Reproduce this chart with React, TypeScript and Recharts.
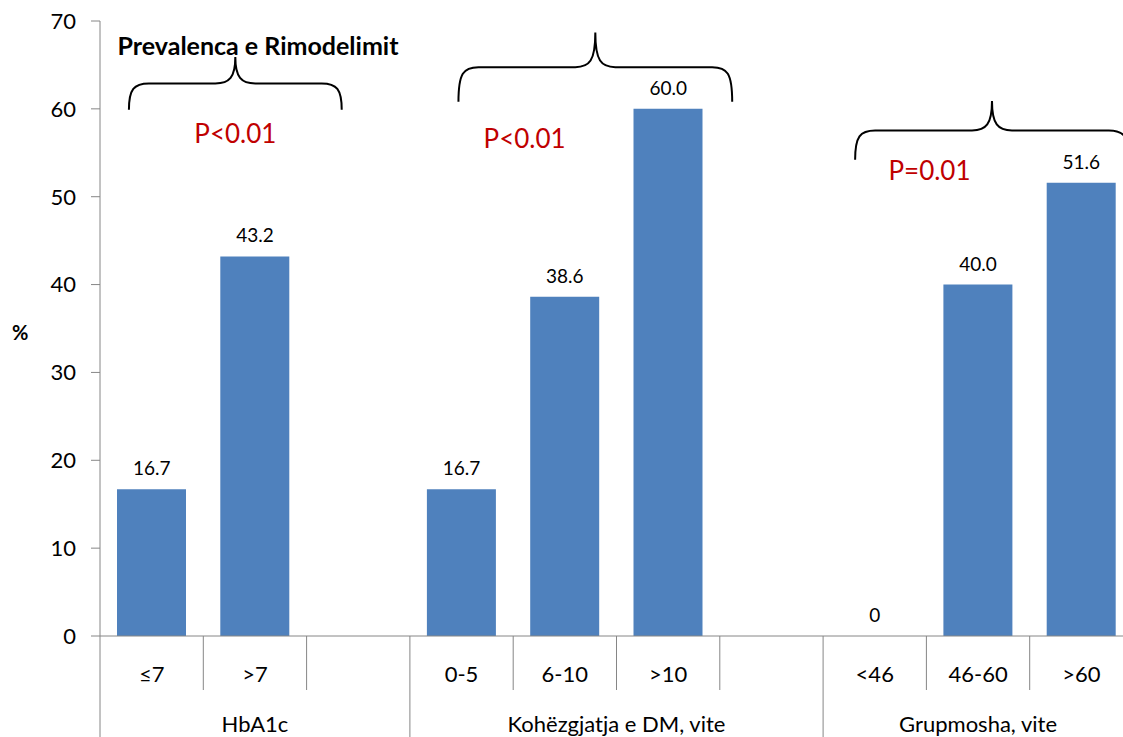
import { ComposedChart, Bar, Line, XAxis, YAxis, LabelList, ReferenceLine, ReferenceDot } from 'recharts';

// categories along the axis; blank slots separate the three groups
const categories = ['≤7', '>7', '', '0-5', '6-10', '>10', ' ', '<46', '46-60', '>60'];
const prevalence: (number | null)[] = [16.7, 43.2, null, 16.7, 38.6, 60.0, null, 0, 40.0, 51.6];
const groupNames = ['HbA1c', 'Kohëzgjatja e DM, vite', 'Grupmosha, vite'];
const groupSizes = [3, 4, 3];
const yTicks = [0, 10, 20, 30, 40, 50, 60, 70];
const pLabels = ['P<0.01', 'P<0.01', 'P=0.01'];
const title = 'Prevalenca e Rimodelimit';

const data = categories.map((cat, i) => ({ cat, v: prevalence[i] }));

const groupStarts = groupSizes.map((_, g) => groupSizes.slice(0, g).reduce((a, b) => a + b, 0));

// layout
const WIDTH = 1133;
const HEIGHT = 737;
const LEFT = 100;
const TOP = 21;
const X_AXIS_H = 101;
const PLOT_BOTTOM = HEIGHT - X_AXIS_H;
const BAND = (WIDTH - LEFT) / categories.length;
const FONT = 'Lato, "Open Sans", sans-serif';
const AXIS = '#868686';
const BLUE = '#4F81BD';
const RED = '#C00000';

// annotation placement: anchored on a category, shifted by a fraction of a band (dx),
// vertical positions in axis values
const braceLayout = [
  { from: '≤7', dx1: -0.22, to: '', dx2: -0.16, end: 59.9, peak: 65.9 },
  { from: '0-5', dx1: -0.03, to: '>10', dx2: 0.62, end: 60.8, peak: 68.7 },
  { from: '<46', dx1: -0.19, to: '>60', dx2: 0.46, end: 54.2, peak: 60.9 },
];
const pLayout = [
  { at: '>7', dx: -0.19, y: 57.2 },
  { at: '0-5', dx: 0.61, y: 56.7 },
  { at: '<46', dx: 0.53, y: 53.0 },
];
const titleLayout = { at: '>7', dx: 0.03, y: 67.3 };

const Brace = ({ dx1, dx2, ...props }: any) => {
  const x1 = props.x1 + dx1 * BAND;
  const x2 = props.x2 + dx2 * BAND;
  const { y1, y2 } = props;
  const xm = (x1 + x2) / 2;
  const yh = (y1 + y2) / 2;
  const r = 20;
  const d = [
    `M${x1},${y1}`,
    `C${x1},${yh + 6} ${x1 + 5},${yh} ${x1 + r},${yh}`,
    `L${xm - r},${yh}`,
    `C${xm - 6},${yh} ${xm},${yh - 6} ${xm},${y2}`,
    `C${xm},${yh - 6} ${xm + 6},${yh} ${xm + r},${yh}`,
    `L${x2 - r},${yh}`,
    `C${x2 - 5},${yh} ${x2},${yh + 6} ${x2},${y1}`,
  ].join(' ');
  return <path d={d} fill="none" stroke="#000" strokeWidth={2} />;
};

const CategoryTick = (props: any) => {
  const { x, index, payload } = props;
  const left = x - BAND / 2;
  const right = x + BAND / 2;
  const isGroupEnd = groupStarts.includes(index + 1);
  const g = groupStarts.indexOf(index);
  return (
    <g>
      {index === 0 && <line x1={left} y1={PLOT_BOTTOM} x2={left} y2={HEIGHT} stroke={AXIS} />}
      <line x1={right} y1={PLOT_BOTTOM} x2={right} y2={isGroupEnd ? HEIGHT : PLOT_BOTTOM + 54} stroke={AXIS} />
      <text x={x} y={PLOT_BOTTOM + 37} textAnchor="middle" dominantBaseline="central" fontSize={22} fontFamily={FONT} fill="#000">
        {payload.value}
      </text>
      {g >= 0 && (
        <text
          x={left + (groupSizes[g] * BAND) / 2}
          y={PLOT_BOTTOM + 87}
          textAnchor="middle"
          dominantBaseline="central"
          fontSize={22}
          fontFamily={FONT}
          fill="#000"
        >
          {groupNames[g]}
        </text>
      )}
    </g>
  );
};

const fmt = (v: any) => (v === null || v === undefined ? '' : v === 0 ? '0' : Number(v).toFixed(1));

const textDot = (content: string, dx: number, style: any) => (s: any) => (
  <text x={s.cx + dx * BAND} y={s.cy} textAnchor="middle" dominantBaseline="central" fontFamily={FONT} {...style}>
    {content}
  </text>
);

export default function App() {
  return (
    <div style={{ position: 'absolute', left: 0, top: 0, width: 1123, height: 737, overflow: 'hidden', background: '#fff' }}>
      <ComposedChart width={WIDTH} height={HEIGHT} data={data} margin={{ top: TOP, right: 0, bottom: 0, left: 0 }}>
        <XAxis
          dataKey="cat"
          height={X_AXIS_H}
          tickLine={false}
          axisLine={{ stroke: AXIS }}
          tick={<CategoryTick />}
          interval={0}
        />
        <YAxis
          width={LEFT}
          domain={[0, 70]}
          ticks={yTicks}
          tickSize={9}
          tickMargin={15}
          axisLine={{ stroke: AXIS }}
          tickLine={{ stroke: AXIS }}
          tick={{ fontSize: 22, fill: '#000', fontFamily: FONT }}
          label={{ value: '%', position: 'insideLeft', offset: 12, dy: 4, fontSize: 20, fontWeight: 'bold', fill: '#000', fontFamily: FONT }}
        />
        <Bar dataKey="v" fill={BLUE} barSize={69} isAnimationActive={false} />
        {/* value labels ride on an invisible line so the zero bar keeps its label */}
        <Line dataKey="v" stroke="none" dot={false} activeDot={false} isAnimationActive={false} legendType="none">
          <LabelList dataKey="v" position="top" offset={14} formatter={fmt} fontSize={19} fill="#000" fontFamily={FONT} />
        </Line>
        {braceLayout.map((b, i) => (
          <ReferenceLine
            key={`brace-${i}`}
            segment={[{ x: b.from, y: b.end }, { x: b.to, y: b.peak }]}
            shape={<Brace dx1={b.dx1} dx2={b.dx2} />}
            ifOverflow="visible"
          />
        ))}
        {pLabels.map((p, i) => (
          <ReferenceDot
            key={`p-${i}`}
            x={pLayout[i].at}
            y={pLayout[i].y}
            ifOverflow="visible"
            shape={textDot(p, pLayout[i].dx, { fontSize: 26, fill: RED })}
          />
        ))}
        <ReferenceDot
          x={titleLayout.at}
          y={titleLayout.y}
          ifOverflow="visible"
          shape={textDot(title, titleLayout.dx, { fontSize: 25, fontWeight: 'bold', fill: '#000' })}
        />
      </ComposedChart>
    </div>
  );
}
